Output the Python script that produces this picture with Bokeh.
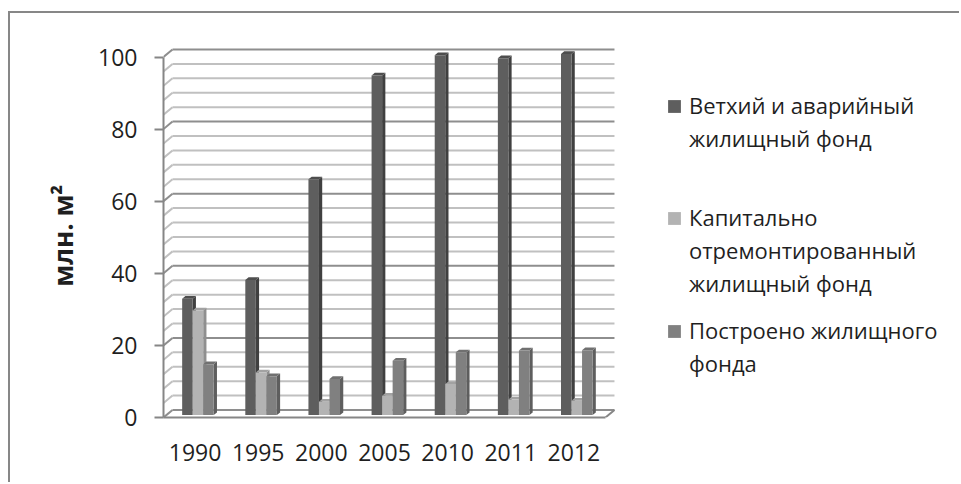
from bokeh.plotting import figure
from bokeh.models import Range1d, FixedTicker, Legend, LegendItem
from bokeh.embed import file_html
from bokeh.resources import INLINE

# ---- data ----
years = ["1990", "1995", "2000", "2005", "2010", "2011", "2012"]
dilapidated = [32.3, 37.5, 65.4, 94.2, 99.8, 99.0, 100.2]
overhauled = [29.0, 11.8, 3.7, 5.4, 8.6, 4.3, 4.0]
constructed = [14.1, 10.8, 10.0, 15.1, 17.4, 17.9, 18.0]

legend_lines = [
    ["Ветхий и аварийный", "жилищный фонд"],
    ["Капитально", "отремонтированный", "жилищный фонд"],
    ["Построено жилищного", "фонда"],
]
y_label = "млн. м²"
major_ticks = [0, 20, 40, 60, 80, 100]
grid_step = 4

# ---- styling / layout ----
FONT = "Open Sans"
TEXT = "#1f1f1f"
AXIS = "#868686"
front_colors = ["#5e5e5e", "#b3b3b3", "#808080"]
side_colors = ["#404040", "#8f8f8f", "#5e5e5e"]
top_colors = ["#4e4e4e", "#a2a2a2", "#707070"]

W, H = 951, 471
LEFT, BOTTOM = 153, 67
PX_CAT = 63.14          # pixels per category slot
PX_VAL = 3.605          # pixels per value unit
DEPTH_X = 9 / PX_CAT    # depth of the 3D box, in data units
DEPTH_Y = 7.5 / PX_VAL
BAR_FRONT, BAR_BACK = 0.32, 0.68   # bar depth as fractions of box depth
GROUP_W = 0.5

n_cat = len(years)
series = [dilapidated, overhauled, constructed]

p = figure(
    width=W, height=H,
    x_range=Range1d(0, (W - LEFT) / PX_CAT),
    y_range=Range1d(0, (H - BOTTOM) / PX_VAL),
    output_backend="svg", toolbar_location=None,
    min_border_left=LEFT, min_border_bottom=BOTTOM,
    min_border_top=0, min_border_right=0,
    outline_line_color=None,
    background_fill_color="white", border_fill_color="white",
    styles={
        "margin-left": "8px", "margin-top": "11px",
        "border-left": "2px solid #878787", "border-top": "2px solid #878787",
    },
)
p.xgrid.visible = False
p.ygrid.visible = False

# ---- back wall gridlines and the left wall diagonals ----
levels = list(range(0, major_ticks[-1] + 1, grid_step))
for major in (False, True):
    lv = [v for v in levels if (v % 20 == 0) == major]
    xs, ys = [], []
    for v in lv:
        xs.append([DEPTH_X, n_cat + DEPTH_X])
        ys.append([v + DEPTH_Y, v + DEPTH_Y])
        xs.append([0, DEPTH_X])
        ys.append([v, v + DEPTH_Y])
    p.multi_line(xs, ys, line_color="#8e8e8e" if major else "#c0c0c0",
                 line_width=2)

# right edge of the floor
p.line([n_cat, n_cat + DEPTH_X], [0, DEPTH_Y], line_color=AXIS, line_width=2)

# ---- 3D bars ----
bw = GROUP_W / len(series)
fx, fy = BAR_FRONT * DEPTH_X, BAR_FRONT * DEPTH_Y
ddx = (BAR_BACK - BAR_FRONT) * DEPTH_X
ddy = (BAR_BACK - BAR_FRONT) * DEPTH_Y

face_xs, face_ys, face_colors = [], [], []
fronts = [dict(left=[], right=[], bottom=[], top=[]) for _ in series]
for i in range(n_cat):
    for s, vals in enumerate(series):
        v = vals[i]
        x0 = i + 0.5 - GROUP_W / 2 + s * bw + fx
        x1 = x0 + bw
        y0, y1 = fy, v + fy
        face_xs.append([x1, x1 + ddx, x1 + ddx, x1])
        face_ys.append([y0, y0 + ddy, y1 + ddy, y1])
        face_colors.append(side_colors[s])
        face_xs.append([x0, x1, x1 + ddx, x0 + ddx])
        face_ys.append([y1, y1, y1 + ddy, y1 + ddy])
        face_colors.append(top_colors[s])
        fronts[s]["left"].append(x0)
        fronts[s]["right"].append(x1)
        fronts[s]["bottom"].append(y0)
        fronts[s]["top"].append(y1)

p.patches(face_xs, face_ys, fill_color=face_colors, line_color=None)
front_renderers = [
    p.quad(left=d["left"], right=d["right"], bottom=d["bottom"], top=d["top"],
           fill_color=front_colors[s], line_color=None)
    for s, d in enumerate(fronts)
]

# ---- axes ----
ya = p.yaxis[0]
ya.ticker = FixedTicker(ticks=major_ticks)
ya.bounds = (major_ticks[0], major_ticks[-1])
ya.axis_line_color = AXIS
ya.axis_line_width = 2
ya.major_tick_line_color = AXIS
ya.major_tick_line_width = 2
ya.major_tick_out = 9
ya.major_tick_in = 0
ya.minor_tick_line_color = None
ya.major_label_standoff = 17
ya.major_label_text_font = FONT
ya.major_label_text_font_size = "23px"
ya.major_label_text_color = TEXT
# trailing no-break spaces centre the title on the value span rather than the frame
ya.axis_label = y_label + "\u00a0" * 6
ya.axis_label_text_font = FONT
ya.axis_label_text_font_style = "bold"
ya.axis_label_text_font_size = "26px"
ya.axis_label_text_color = TEXT
ya.axis_label_standoff = 14

xa = p.xaxis[0]
centers = [i + 0.5 for i in range(n_cat)]
xa.ticker = FixedTicker(ticks=centers)
xa.major_label_overrides = {c: y for c, y in zip(centers, years)}
xa.bounds = (0, n_cat)
xa.axis_line_color = AXIS
xa.axis_line_width = 2
xa.major_tick_line_color = None
xa.minor_tick_line_color = None
xa.major_label_standoff = 20
xa.major_label_text_font = FONT
xa.major_label_text_font_size = "23px"
xa.major_label_text_color = TEXT

# ---- legend ----
# text blocks: one row per text line, no visible glyph
blank = p.quad(left=[], right=[], bottom=[], top=[], fill_alpha=0, line_alpha=0)
TEXT_X = 495
TEXT_Y = [262.5, 117.5, 37.5]
for k, lines in enumerate(legend_lines):
    items = [LegendItem(label=t, renderers=[blank]) for t in lines]
    p.add_layout(Legend(
        items=items, location=(TEXT_X, TEXT_Y[k]),
        padding=0, margin=0, spacing=0,
        border_line_color=None, background_fill_alpha=0,
        glyph_width=31, glyph_height=33, label_height=33,
        label_standoff=0,
        label_text_font=FONT, label_text_font_size="22px",
        label_text_color=TEXT,
    ))

# colour swatches, each beside the first line of its block
SWATCH_X = 502.5
SWATCH_Y = [303.5, 191.5, 78.5]
for k in range(len(legend_lines)):
    p.add_layout(Legend(
        items=[LegendItem(label=" ", renderers=[front_renderers[k]])],
        location=(SWATCH_X, SWATCH_Y[k]),
        padding=0, margin=0, spacing=0,
        border_line_color=None, background_fill_alpha=0,
        glyph_width=16, glyph_height=16, label_height=16, label_width=1,
        label_standoff=0, label_text_font_size="1px",
    ))

open("out.html", "w").write(file_html(p, INLINE))
